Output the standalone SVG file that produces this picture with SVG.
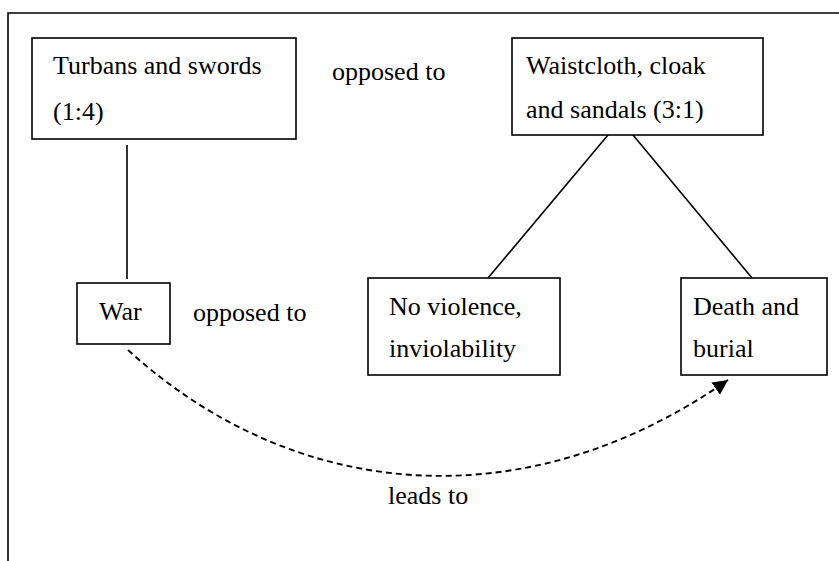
<svg xmlns="http://www.w3.org/2000/svg" width="839" height="561" viewBox="0 0 839 561" font-family="'Liberation Serif', 'DejaVu Serif', serif">
<defs>
<style>
.box{fill:#fff;stroke:#000;stroke-width:1.6}
.t{font-family:'Liberation Serif','DejaVu Serif',serif;font-size:26px;fill:#000}
.ln{stroke:#000;stroke-width:1.6;fill:none}
.dash{stroke:#000;stroke-width:1.9;fill:none;stroke-dasharray:6 4}
</style>
<marker id="ah" viewBox="0 0 10 10" refX="10" refY="5" markerWidth="15" markerHeight="15" markerUnits="userSpaceOnUse" orient="auto">
<path d="M0,0 L10,5 L0,10 z" fill="#000"/>
</marker>
</defs>
<rect width="839" height="561" fill="#fff"/>
<g id="frame">
<path class="ln" d="M8,561 L8,13 L839,13"/>
</g>
<g id="connectors">
<line class="ln" x1="127" y1="145" x2="127" y2="279"/>
<line class="ln" x1="608" y1="135" x2="488" y2="278"/>
<line class="ln" x1="633" y1="135" x2="752" y2="278"/>
<path class="dash" d="M128,350 C290,498 520,525 728,380" marker-end="url(#ah)"/>
<text class="t" x="332" y="80">opposed to</text>
<text class="t" x="193" y="321">opposed to</text>
<text class="t" x="388" y="504">leads to</text>
</g>
<g id="turbans">
<rect class="box" x="32" y="38" width="264" height="101"/>
<text class="t" x="53" y="74">Turbans and swords</text>
<text class="t" x="53" y="120">(1:4)</text>
</g>
<g id="waistcloth">
<rect class="box" x="512" y="38" width="251" height="97"/>
<text class="t" x="526" y="74">Waistcloth, cloak</text>
<text class="t" x="526" y="118">and sandals (3:1)</text>
</g>
<g id="war">
<rect class="box" x="77" y="283" width="93" height="61"/>
<text class="t" x="99" y="320">War</text>
</g>
<g id="noviolence">
<rect class="box" x="368" y="278" width="192" height="97"/>
<text class="t" x="389" y="315">No violence,</text>
<text class="t" x="389" y="357">inviolability</text>
</g>
<g id="death">
<rect class="box" x="681" y="278" width="146" height="97"/>
<text class="t" x="693" y="315">Death and</text>
<text class="t" x="693" y="357">burial</text>
</g>
</svg>
